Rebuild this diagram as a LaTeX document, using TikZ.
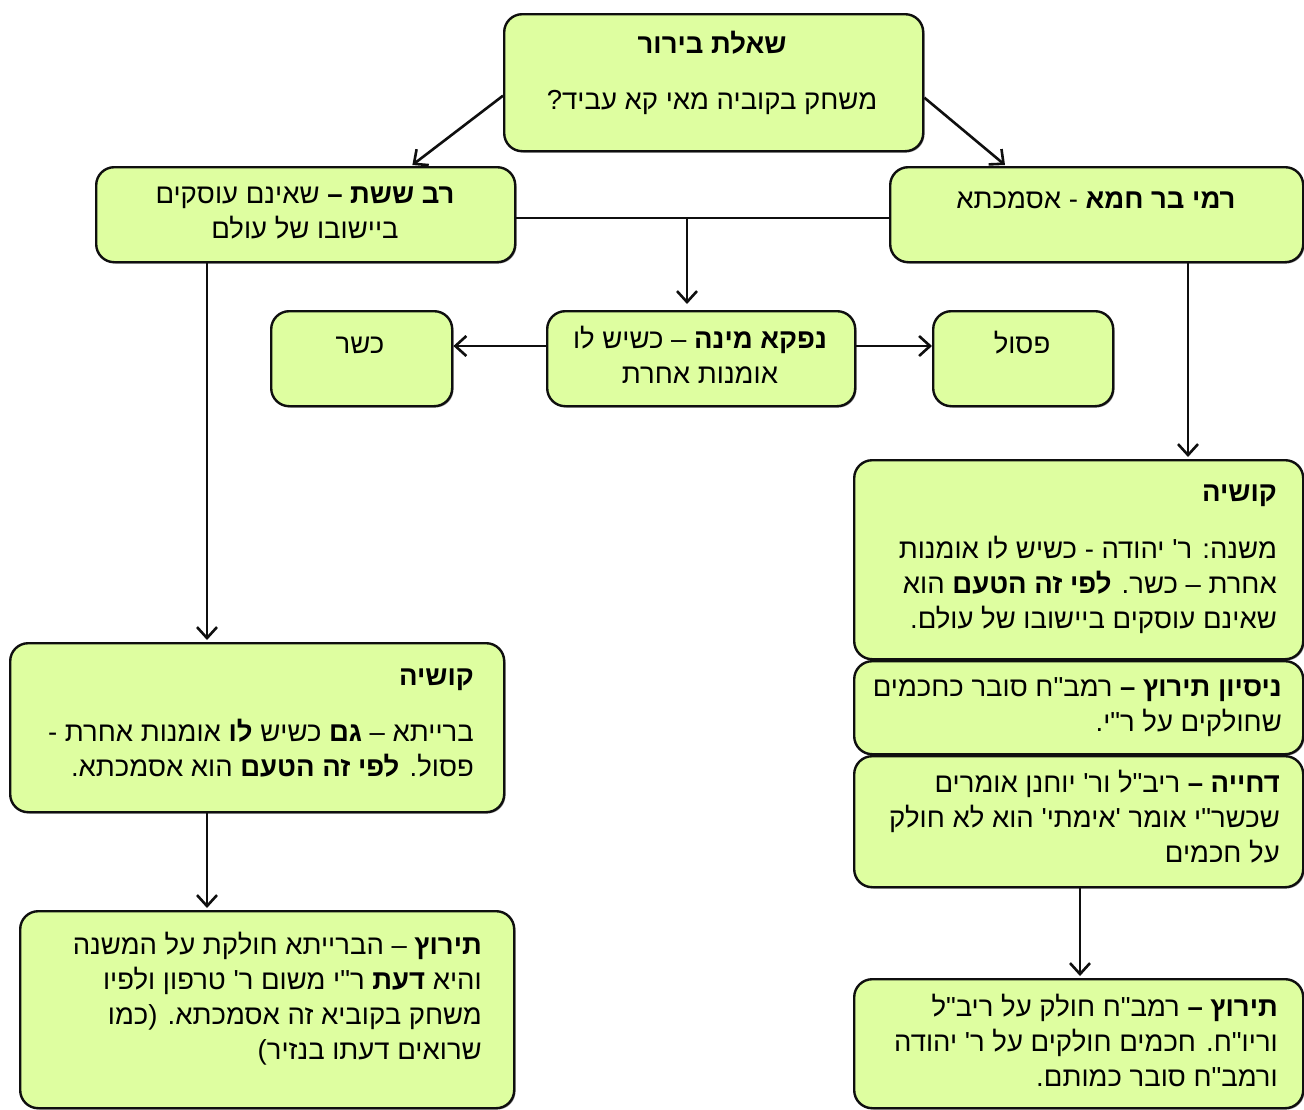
\documentclass[tikz,border=0pt]{standalone}
\usepackage{fontspec}
\usetikzlibrary{arrows.meta,shadows,calc}
\TeXXeTstate=1
\newfontfamily\hebfont[Script=Hebrew]{Liberation Sans}
\newcommand\heb[1]{\beginR #1\endR}
\definecolor{boxfill}{RGB}{222,254,160}
\definecolor{boxline}{RGB}{15,15,15}
\tikzset{
  box/.style={draw=boxline, line width=2.4pt, fill=boxfill, rounded corners=18pt,
    anchor=north west, inner sep=0pt,
    drop shadow={shadow xshift=1.3pt, shadow yshift=-1.3pt, fill=black, opacity=0.45}},
  txt/.style={font=\hebfont\fontsize{27.5}{34.8}\selectfont, inner sep=0pt, align=right},
  ctxt/.style={font=\hebfont\fontsize{27.5}{34.8}\selectfont, inner sep=0pt, align=center},
  arr/.style={line width=2.6pt, draw=boxline, -{Straight Barb[length=11pt,width=20pt,line width=2.6pt]}},
  conn/.style={line width=2.6pt, draw=boxline}
}
\begin{document}
\begin{tikzpicture}[x=1pt,y=-1pt]
\useasboundingbox (0,0) rectangle (1304,1109);
\fill[white] (0,0) rectangle (1304,1109);
% boxes
\node[box, minimum width=419pt, minimum height=137pt] (top) at (503,13) {};
\node[box, minimum width=419pt, minimum height=95pt] (rs) at (95,166) {};
\node[box, minimum width=413pt, minimum height=95pt] (rami) at (889,166) {};
\node[box, minimum width=181pt, minimum height=95pt] (kasher) at (270,310) {};
\node[box, minimum width=308pt, minimum height=95pt] (nm) at (546,310) {};
\node[box, minimum width=180pt, minimum height=95pt] (pasul) at (932,310) {};
\node[box, minimum width=449pt, minimum height=199pt] (rk) at (853,459) {};
\node[box, minimum width=449pt, minimum height=93pt] (ns) at (853,660) {};
\node[box, minimum width=449pt, minimum height=131pt] (dc) at (853,755) {};
\node[box, minimum width=449pt, minimum height=129pt] (rt) at (853,978) {};
\node[box, minimum width=494pt, minimum height=169pt] (lk) at (9,642) {};
\node[box, minimum width=494pt, minimum height=197pt] (lt) at (19,910) {};
% texts (base anchor of a multi-line node = last line)
\node[ctxt, anchor=base] (t1) at (712,53) {\heb{\textbf{שאלת בירור}}};
\node[ctxt, anchor=base] (t2) at (712,109) {\heb{משחק בקוביה מאי קא עביד?}};
\node[ctxt, anchor=base] (t3) at (305,238) {\heb{\textbf{רב ששת –} שאינם עוסקים}\\\heb{ביישובו של עולם}};
\node[ctxt, anchor=base] (t4) at (1096,208) {\heb{\textbf{רמי בר חמא} - אסמכתא}};
\node[ctxt, anchor=base] (t5) at (360,353) {\heb{כשר}};
\node[ctxt, anchor=base] (t6) at (700,383) {\heb{\textbf{נפקא מינה} – כשיש לו}\\\heb{אומנות אחרת}};
\node[ctxt, anchor=base] (t7) at (1022,353) {\heb{פסול}};
\node[txt, anchor=base east] (t8) at (1277,501) {\heb{\textbf{קושיה}}};
\node[txt, anchor=base east] (t9) at (1277,628) {\heb{משנה: ר' יהודה - כשיש לו אומנות}\\\heb{אחרת – כשר. \textbf{לפי זה הטעם} הוא}\\\heb{שאינם עוסקים ביישובו של עולם.}};
\node[txt, anchor=base east] (t10) at (1282,731) {\heb{\textbf{ניסיון תירוץ –} רמב"ח סובר כחכמים}\\\heb{שחולקים על ר"י.}};
\node[txt, anchor=base east] (t11) at (1280,862) {\heb{\textbf{דחייה –} ריב"ל ור' יוחנן אומרים}\\\heb{שכשר"י אומר 'אימתי' הוא לא חולק}\\\heb{על חכמים}};
\node[txt, anchor=base east] (t12) at (1278,1086) {\heb{\textbf{תירוץ –} רמב"ח חולק על ריב"ל}\\\heb{וריו"ח. חכמים חולקים על ר' יהודה}\\\heb{ורמב"ח סובר כמותם.}};
\node[txt, anchor=base east] (t13) at (474,685) {\heb{\textbf{קושיה}}};
\node[txt, anchor=base east] (t14) at (474,776) {\heb{ברייתא – \textbf{גם} כשיש \textbf{לו} אומנות אחרת -}\\\heb{פסול. \textbf{לפי זה הטעם} הוא אסמכתא.}};
\node[txt, anchor=base east] (t15) at (482,1059) {\heb{\textbf{תירוץ} – הברייתא חולקת על המשנה}\\\heb{והיא \textbf{דעת} ר"י משום ר' טרפון ולפיו}\\\heb{משחק בקוביא זה אסמכתא. (כמו}\\\heb{שרואים דעתו בנזיר)}};
% connectors
\coordinate (j) at (687,218);
\coordinate (hm) at (0,346);
\coordinate (lx) at (207,0);
\coordinate (rx) at (1188,0);
\coordinate (dx) at (1080,0);
\draw[arr] ($(top.west)+(0,13)$) -- ($(rs.north east)+(-104,-1)$);
\draw[arr] ($(top.east)+(0,15)$) -- ($(rami.north west)+(116,-1)$);
\draw[conn] (rs.east |- j) -- (rami.west |- j);
\draw[arr] (j) -- ($(j |- nm.north)+(0,-6)$);
\draw[arr] (nm.west |- hm) -- (kasher.east |- hm);
\draw[arr] (nm.east |- hm) -- (pasul.west |- hm);
\draw[arr] (rs.south -| lx) -- ($(lk.north -| lx)+(0,-2)$);
\draw[arr] (lk.south -| lx) -- ($(lt.north -| lx)+(0,-2)$);
\draw[arr] (rami.south -| rx) -- ($(rk.north -| rx)+(0,-2)$);
\draw[arr] (dc.south -| dx) -- ($(rt.north -| dx)+(0,-2)$);
\end{tikzpicture}
\end{document}
